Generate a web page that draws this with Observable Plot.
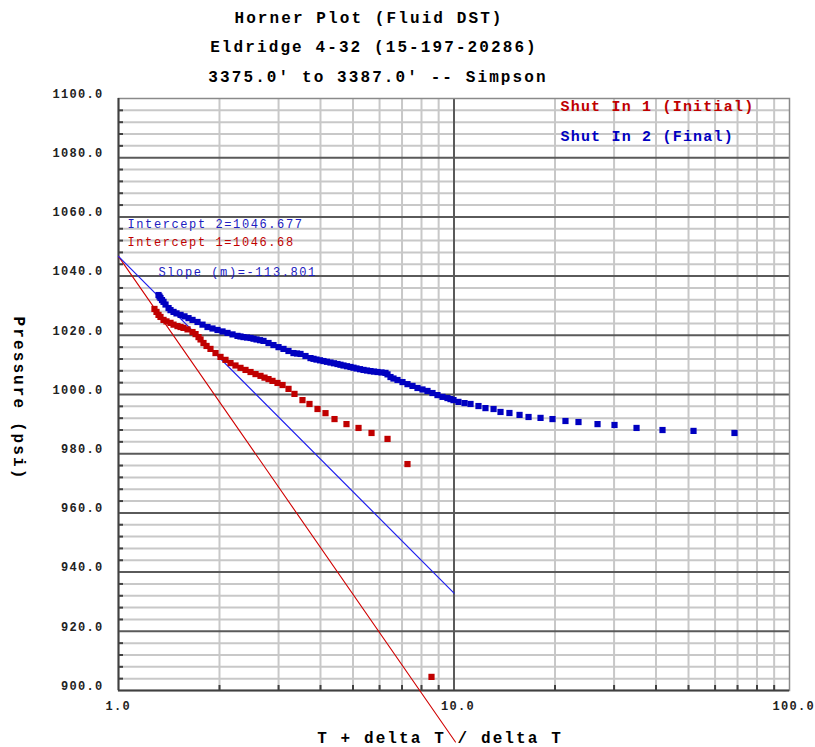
<!DOCTYPE html>
<html><head><meta charset="utf-8">
<script src="https://cdn.jsdelivr.net/npm/d3@7"></script>
<script src="https://cdn.jsdelivr.net/npm/@observablehq/plot@0.6"></script>
<style>
body{margin:0;background:#fff}
svg{display:block}
[aria-label="title"], [aria-label="axis-title"]{letter-spacing:2.1px}
[aria-label="legend"]{letter-spacing:1.2px}
[aria-label="note"]{letter-spacing:1.6px}
[aria-label="tick-label"]{letter-spacing:1.3px}
</style>
</head><body><div id="chart"></div>
<script>
const titleLines = ["Horner Plot (Fluid DST)", "Eldridge 4-32 (15-197-20286)", "3375.0\u2032 to 3387.0\u2032 -- Simpson"];
const xAxisTitle = "T + delta T / delta T";
const yAxisTitle = "Pressure (psi)";
const seriesNames = ["Shut In 1 (Initial)", "Shut In 2 (Final)"];
const notes = ["Intercept 2=1046.677", "Intercept 1=1046.68", "Slope (m)=-113.801"];

const xTickLabels = [1, 10];
const xLastTickLabel = [100];
const yTickLabels = [900, 920, 940, 960, 980, 1000, 1020, 1040, 1060, 1080, 1100];
const xMinorGrid = [2, 3, 4, 5, 6, 7, 8, 9, 20, 30, 40, 50, 60, 70, 80, 90];
const xMajorGrid = [10];

// Shut In 1 (Initial)
const redT = [1.280,1.298,1.316,1.334,1.362,1.390,1.429,1.459,1.499,1.531,1.562,1.606,1.662,1.697,1.732,1.756,1.792,1.830,1.880,1.946,2.014,2.084,2.157,2.232,2.310,2.391,2.475,2.561,2.650,2.724,2.800,2.877,2.978,3.083,3.212,3.346,3.535,3.709,3.919,4.140,4.404,4.781,5.193,5.678,6.337,7.267,8.569];
const redP = [1028.9,1027.9,1026.9,1026.2,1025.2,1024.7,1024.2,1023.6,1023.1,1022.8,1022.5,1022.0,1021.1,1020.4,1019.4,1018.6,1017.4,1016.4,1015.4,1014.0,1012.7,1011.7,1010.6,1009.8,1009.0,1008.3,1007.6,1006.9,1006.3,1005.7,1005.2,1004.6,1003.9,1003.2,1001.9,1000.2,998.1,996.8,995.1,993.7,991.7,990.0,988.7,987.0,985.0,976.5,904.6];

// Shut In 2 (Final)
const blueT = [1.316,1.325,1.334,1.348,1.362,1.381,1.410,1.429,1.459,1.489,1.531,1.573,1.617,1.662,1.720,1.780,1.842,1.906,1.973,2.042,2.113,2.187,2.263,2.310,2.358,2.416,2.475,2.526,2.579,2.641,2.705,2.800,2.897,2.999,3.103,3.211,3.323,3.404,3.487,3.609,3.735,3.813,3.892,3.987,4.083,4.182,4.284,4.388,4.495,4.588,4.684,4.798,4.914,5.017,5.121,5.246,5.374,5.504,5.638,5.775,5.915,6.080,6.249,6.336,6.467,6.602,6.786,7.023,7.268,7.521,7.784,8.055,8.336,8.627,8.928,9.240,9.562,9.763,9.966,10.31,10.75,11.20,11.83,12.41,13.12,13.76,14.63,15.68,16.68,18.11,19.66,21.49,23.50,26.78,30.09,35.00,41.83,51.75,68.55];
const blueP = [1033.6,1033.1,1032.6,1031.9,1031.3,1030.4,1029.2,1028.5,1027.9,1027.4,1026.9,1026.4,1025.8,1025.2,1024.5,1023.6,1022.8,1022.3,1021.8,1021.3,1020.8,1020.3,1019.8,1019.6,1019.4,1019.25,1019.1,1018.85,1018.6,1018.35,1018.1,1017.4,1016.7,1016.0,1015.4,1014.7,1014.0,1013.85,1013.7,1013.0,1012.3,1012.05,1011.8,1011.55,1011.3,1011.05,1010.8,1010.55,1010.3,1010.05,1009.8,1009.55,1009.3,1009.05,1008.8,1008.55,1008.3,1008.1,1007.9,1007.75,1007.6,1007.45,1007.3,1006.8,1005.9,1005.4,1004.9,1004.2,1003.5,1002.9,1002.2,1001.7,1001.2,1000.5,999.8,999.2,998.8,998.45,998.1,997.5,997.1,996.8,996.1,995.4,995.1,994.1,993.75,993.1,992.4,992.1,991.7,991.05,990.7,990.0,989.7,988.7,988.0,987.7,987.0];

// Straight-line fits
const redLineT = [1, 10.1];
const redLineP = [1046.68, 882.6];
const blueLineT = [1, 10];
const blueLineP = [1046.677, 932.9];

const RED = "#c00000", BLUE = "#0000c0";
const red = redT.map((t, i) => ({t, p: redP[i]}));
const blue = blueT.map((t, i) => ({t, p: blueP[i]}));
const redLine = redLineT.map((t, i) => ({t, p: redLineP[i]}));
const blueLine = blueLineT.map((t, i) => ({t, p: blueLineP[i]}));
const yMinorGrid = d3.range(900, 1101, 4).filter(v => v % 20 !== 0);
const yMajorGrid = yTickLabels.slice(1, -1);
const FONT = "'Liberation Mono', 'Courier New', monospace";
const tag = s => () => s;

const plot = Plot.plot({
  width: 815, height: 747,
  marginLeft: 118, marginRight: 26, marginTop: 98, marginBottom: 57,
  x: {type: "log", domain: [1, 100], axis: null},
  y: {domain: [900, 1100], axis: null},
  style: {fontFamily: FONT, background: "#fff", overflow: "visible"},
  marks: [
    Plot.ruleX(xMinorGrid, {stroke: "#c8c8c8", strokeWidth: 2}),
    Plot.ruleY(yMinorGrid, {stroke: "#c8c8c8", strokeWidth: 2}),
    Plot.ruleX(xMajorGrid, {stroke: "#5a5a5a", strokeWidth: 2}),
    Plot.ruleY(yMajorGrid, {stroke: "#5a5a5a", strokeWidth: 2}),
    Plot.frame({stroke: "#8a8a8a", strokeWidth: 1.5}),
    Plot.ruleY(yMinorGrid, {x1: 1, x2: 1.035, stroke: "#404040", strokeWidth: 2}),
    Plot.ruleX(xMinorGrid, {y1: 900, y2: 901.7, stroke: "#404040", strokeWidth: 2}),
    Plot.ruleX([1], {stroke: "#404040", strokeWidth: 2}),
    Plot.ruleY([900], {stroke: "#404040", strokeWidth: 2}),
    Plot.line(redLine, {x: "t", y: "p", stroke: "#d00000", strokeWidth: 1.1}),
    Plot.line(blueLine, {x: "t", y: "p", stroke: "#2020ee", strokeWidth: 1.2}),
    Plot.dot(blue, {x: "t", y: "p", symbol: "square", r: 3.5, fill: BLUE, stroke: null}),
    Plot.dot(red, {x: "t", y: "p", symbol: "square", r: 3.5, fill: RED, stroke: null}),
    // tick labels
    Plot.text(yTickLabels, {y: d => d, text: d => d.toFixed(1), frameAnchor: "left", textAnchor: "end", lineAnchor: "middle", dx: -15, dy: -4.5, fontSize: 12, fontWeight: "bold", fill: "#222", ariaLabel: tag("tick-label")}),
    Plot.text(xTickLabels, {x: d => d, text: d => d.toFixed(1), frameAnchor: "bottom", textAnchor: "start", lineAnchor: "middle", dx: -13, dy: 16, fontSize: 12, fontWeight: "bold", fill: "#222", ariaLabel: tag("tick-label")}),
    Plot.text(xLastTickLabel, {x: d => d, text: d => d.toFixed(1), frameAnchor: "bottom", textAnchor: "start", lineAnchor: "middle", dx: -17, dy: 16, fontSize: 12, fontWeight: "bold", fill: "#222", ariaLabel: tag("tick-label")}),
    // titles
    Plot.text([titleLines[0]], {text: d => d, frameAnchor: "top", textAnchor: "middle", lineAnchor: "middle", dx: -85, dy: -81, fontSize: 16, fontWeight: "bold", fill: "#000", ariaLabel: tag("title")}),
    Plot.text([titleLines[1]], {text: d => d, frameAnchor: "top", textAnchor: "middle", lineAnchor: "middle", dx: -80, dy: -52, fontSize: 16, fontWeight: "bold", fill: "#000", ariaLabel: tag("title")}),
    Plot.text([titleLines[2]], {text: d => d, frameAnchor: "top", textAnchor: "middle", lineAnchor: "middle", dx: -76, dy: -22, fontSize: 16, fontWeight: "bold", fill: "#000", ariaLabel: tag("title")}),
    Plot.text([xAxisTitle], {text: d => d, frameAnchor: "bottom", textAnchor: "middle", lineAnchor: "middle", dx: -14, dy: 47, fontSize: 16, fontWeight: "bold", fill: "#000", ariaLabel: tag("axis-title")}),
    Plot.text([yAxisTitle], {text: d => d, frameAnchor: "left", textAnchor: "middle", lineAnchor: "middle", dx: -99, dy: 4, rotate: 90, fontSize: 16, fontWeight: "bold", fill: "#000", ariaLabel: tag("axis-title")}),
    // legend
    Plot.text([seriesNames[0]], {text: d => d, frameAnchor: "top-left", textAnchor: "start", lineAnchor: "middle", dx: 442, dy: 8, fontSize: 15, fontWeight: "bold", fill: RED, ariaLabel: tag("legend")}),
    Plot.text([seriesNames[1]], {text: d => d, frameAnchor: "top-left", textAnchor: "start", lineAnchor: "middle", dx: 442, dy: 38, fontSize: 15, fontWeight: "bold", fill: BLUE, ariaLabel: tag("legend")}),
    // notes
    Plot.text([notes[0]], {text: d => d, frameAnchor: "top-left", textAnchor: "start", lineAnchor: "middle", dx: 9, dy: 126, fontSize: 12, fill: "#2020c0", ariaLabel: tag("note")}),
    Plot.text([notes[1]], {text: d => d, frameAnchor: "top-left", textAnchor: "start", lineAnchor: "middle", dx: 9, dy: 144, fontSize: 12, fill: "#c00000", ariaLabel: tag("note")}),
    Plot.text([notes[2]], {text: d => d, frameAnchor: "top-left", textAnchor: "start", lineAnchor: "middle", dx: 40, dy: 174, fontSize: 12, fill: "#2020c0", ariaLabel: tag("note")})
  ]
});
document.getElementById("chart").appendChild(plot);
</script>
</body></html>
